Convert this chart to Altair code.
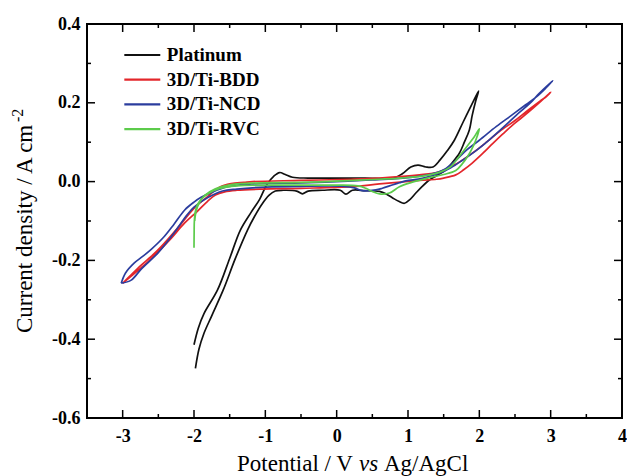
import altair as alt
import pandas as pd

series_names = ["Platinum", "3D/Ti-BDD", "3D/Ti-NCD", "3D/Ti-RVC"]
series_colors = ["#111111", "#e3262b", "#2b3d9e", "#5ccb4b"]

# Platinum (potential V, current density A cm-2)
pt_v = [-2.00, -1.94, -1.86, -1.67, -1.50, -1.35, -1.20, -1.08, -0.98, -0.88, -0.80, -0.72, -0.62,
        -0.40, 0.00, 0.40, 0.80, 0.92, 1.04, 1.14, 1.25, 1.35, 1.45, 1.55, 1.65, 1.77, 1.90, 1.99,
        1.95, 1.90, 1.86, 1.79, 1.72, 1.62, 1.53, 1.40, 1.30, 1.20, 1.11, 1.03, 0.95, 0.87, 0.79,
        0.70, 0.60, 0.40, 0.22, 0.13, 0.05, -0.20, -0.40, -0.48, -0.56, -0.75, -0.86, -0.95, -1.05,
        -1.15, -1.25, -1.42, -1.59, -1.75, -1.86, -1.93, -1.98]
pt_i = [-0.414, -0.372, -0.335, -0.275, -0.195, -0.123, -0.078, -0.045, -0.008, 0.014, 0.023, 0.018, 0.011,
        0.009, 0.009, 0.009, 0.009, 0.020, 0.037, 0.042, 0.037, 0.037, 0.055, 0.078, 0.105, 0.150, 0.198, 0.230,
        0.205, 0.168, 0.131, 0.100, 0.072, 0.048, 0.030, 0.015, 0.004, -0.012, -0.029, -0.045, -0.055, -0.050, -0.042,
        -0.032, -0.025, -0.023, -0.022, -0.032, -0.022, -0.022, -0.024, -0.031, -0.024, -0.022, -0.024, -0.035, -0.058,
        -0.088, -0.123, -0.195, -0.275, -0.340, -0.385, -0.425, -0.474]

# 3D/Ti-BDD
bdd_v = [-3.00, -2.90, -2.74, -2.60, -2.46, -2.23, -2.00, -1.81, -1.65, -1.48, -1.30, -1.18, -0.50, 0.20,
         0.60, 1.16, 1.44, 1.65, 1.90, 2.10, 2.28, 2.50, 2.66, 2.85, 2.94, 3.00,
         2.88, 2.75, 2.60, 2.47, 2.33, 2.19, 2.05, 1.90, 1.78, 1.67, 1.50, 1.40, 1.16, 0.60, 0.22,
         -0.50, -1.04, -1.40, -1.57, -1.70, -1.81, -1.95, -2.13, -2.35, -2.60, -2.80, -3.00]
bdd_i = [-0.258, -0.240, -0.212, -0.190, -0.165, -0.118, -0.068, -0.038, -0.015, -0.005, -0.002, 0.000, 0.003, 0.006,
         0.009, 0.017, 0.025, 0.042, 0.072, 0.100, 0.127, 0.155, 0.178, 0.204, 0.216, 0.227,
         0.207, 0.186, 0.163, 0.144, 0.121, 0.097, 0.072, 0.047, 0.030, 0.017, 0.009, 0.006, 0.003, -0.006, -0.013,
         -0.017, -0.019, -0.022, -0.026, -0.034, -0.050, -0.075, -0.105, -0.150, -0.196, -0.228, -0.258]

# 3D/Ti-NCD
ncd_v = [-3.02, -2.96, -2.84, -2.72, -2.60, -2.42, -2.28, -2.13, -2.00, -1.90, -1.76, -1.53, -1.20, -0.50,
         0.00, 0.50, 1.00, 1.30, 1.50, 1.65, 1.82, 2.00, 2.24, 2.45, 2.65, 2.80, 2.93, 3.03,
         2.95, 2.84, 2.70, 2.52, 2.35, 2.14, 1.95, 1.77, 1.60, 1.44, 1.20, 0.97, 0.88, 0.79, 0.64,
         0.55, 0.36, 0.25, 0.10, -0.50, -1.00, -1.40, -1.60, -1.80, -2.00, -2.10, -2.20, -2.32, -2.51,
         -2.74, -2.88, -3.02]
ncd_i = [-0.258, -0.232, -0.207, -0.190, -0.172, -0.140, -0.108, -0.072, -0.052, -0.040, -0.028, -0.013, -0.006, -0.003,
         0.000, 0.004, 0.010, 0.018, 0.030, 0.050, 0.080, 0.105, 0.140, 0.168, 0.195, 0.215, 0.237, 0.256,
         0.243, 0.224, 0.197, 0.169, 0.140, 0.106, 0.078, 0.055, 0.035, 0.021, 0.008, 0.002, -0.003, -0.008, -0.017,
         -0.021, -0.023, -0.016, -0.012, -0.012, -0.014, -0.019, -0.024, -0.040, -0.065, -0.085, -0.110, -0.140, -0.182,
         -0.222, -0.250, -0.258]

# 3D/Ti-RVC
rvc_v = [-2.00, -1.998, -1.995, -1.98, -1.95, -1.90, -1.80, -1.65, -1.40, -0.50, 0.00, 0.30, 0.41, 0.50,
         0.60, 0.74, 0.88, 1.05, 1.30, 1.50, 1.67, 1.76, 1.84, 1.92, 1.97, 2.00,
         1.93, 1.85, 1.77, 1.68, 1.60, 1.45, 1.20, 0.90, 0.60, 0.00, -0.50, -1.20, -1.50, -1.70,
         -1.85, -1.93, -1.97, -1.99]
rvc_i = [-0.168, -0.130, -0.100, -0.075, -0.058, -0.045, -0.030, -0.018, -0.011, -0.009, -0.009, -0.011, -0.017, -0.025,
         -0.031, -0.029, -0.013, -0.002, 0.010, 0.018, 0.028, 0.045, 0.065, 0.092, 0.115, 0.134,
         0.114, 0.095, 0.076, 0.055, 0.038, 0.024, 0.014, 0.009, 0.006, 0.001, -0.002, -0.004, -0.008, -0.018,
         -0.035, -0.055, -0.075, -0.100]

x_major = [-3, -2, -1, 0, 1, 2, 3, 4]
x_minor = [-3.5, -2.5, -1.5, -0.5, 0.5, 1.5, 2.5, 3.5]
y_major = [-0.6, -0.4, -0.2, 0.0, 0.2, 0.4]
y_minor = [-0.5, -0.3, -0.1, 0.1, 0.3]

x_title = ["Potential / V", "vs", "Ag/AgCl"]
y_title = ["Current density / A cm", "-2"]

rows = []
for name, vs, cs in zip(series_names, [pt_v, bdd_v, ncd_v, rvc_v], [pt_i, bdd_i, ncd_i, rvc_i]):
    for k, (v, c) in enumerate(zip(vs, cs)):
        rows.append({"series": name, "idx": k, "V": v, "I": c})
df = pd.DataFrame(rows)

W, H = 535, 394
FONT = "Liberation Serif"
xs = alt.Scale(domain=[-3.5, 4], nice=False, zero=False)
ys = alt.Scale(domain=[-0.6, 0.4], nice=False, zero=False)

x_axis = alt.Axis(values=x_major, title=None, labelPadding=9,
                  labelExpr="datum.value < 0 ? '-' + format(-datum.value, 'd') : format(datum.value, 'd')")
y_axis = alt.Axis(values=y_major, title=None, labelPadding=7,
                  labelExpr="datum.value < -0.001 ? '-' + format(-datum.value, '.1f') : format(abs(datum.value), '.1f')")

lines = alt.Chart(df).mark_line(strokeWidth=1.7, interpolate="catmull-rom", clip=True).encode(
    x=alt.X("V:Q", scale=xs, axis=x_axis),
    y=alt.Y("I:Q", scale=ys, axis=y_axis),
    color=alt.Color("series:N", sort=series_names,
                    scale=alt.Scale(domain=series_names, range=series_colors),
                    legend=alt.Legend(title=None, orient="none", legendX=45.8, legendY=21.5,
                                      symbolType="M-2.5,0H2.5", symbolSize=207, symbolStrokeWidth=2.2,
                                      labelFont=FONT, labelFontSize=19, labelFontWeight="bold",
                                      labelColor="black", labelOffset=15, rowPadding=4.7, padding=0)),
    order=alt.Order("idx:Q"),
)

def xticks(vals, top, length):
    d = pd.DataFrame({"V": vals})
    if top:
        yy, yy2 = alt.value(0), alt.value(length)
    else:
        yy, yy2 = alt.value(H), alt.value(H - length)
    return alt.Chart(d).mark_rule(color="black", strokeWidth=1.5).encode(
        x=alt.X("V:Q", scale=xs, axis=x_axis), y=yy, y2=yy2)

def yticks(vals, right, length):
    d = pd.DataFrame({"I": vals})
    if right:
        xx, xx2 = alt.value(W), alt.value(W - length)
    else:
        xx, xx2 = alt.value(0), alt.value(length)
    return alt.Chart(d).mark_rule(color="black", strokeWidth=1.5).encode(
        y=alt.Y("I:Q", scale=ys, axis=y_axis), x=xx, x2=xx2)

ticks = [xticks(x_major, False, 8), xticks(x_major, True, 8), xticks(x_minor, False, 4), xticks(x_minor, True, 4),
         yticks(y_major, False, 8), yticks(y_major, True, 8), yticks(y_minor, False, 4), yticks(y_minor, True, 4)]

def text(t, x, y, size, angle=0, style="normal"):
    return alt.Chart(pd.DataFrame({"t": [t]})).mark_text(
        font=FONT, fontSize=size, fontStyle=style, align="left", baseline="alphabetic",
        angle=angle, color="black").encode(x=alt.value(x), y=alt.value(y), text="t:N")

titles = [
    text(x_title[0], 150, 447, 23),
    text(x_title[1], 272, 447, 23, style="italic"),
    text(x_title[2], 297, 447, 23),
    text(y_title[0], -55, 309, 23, angle=270),
    text(y_title[1], -64, 98, 16, angle=270),
]

chart = alt.layer(*ticks, lines, *titles).properties(
    width=W, height=H, autosize="none", background="white",
    padding={"left": 87, "top": 24, "right": 5, "bottom": 58},
).configure_view(stroke="black", strokeWidth=2).configure_axis(
    ticks=False, domain=False, grid=False,
    labelFont=FONT, labelFontWeight="bold", labelFontSize=18, labelColor="black",
    labelOverlap=False, labelFlush=False,
)

chart.save("out.html", embed_options={"renderer": "svg", "actions": False})
